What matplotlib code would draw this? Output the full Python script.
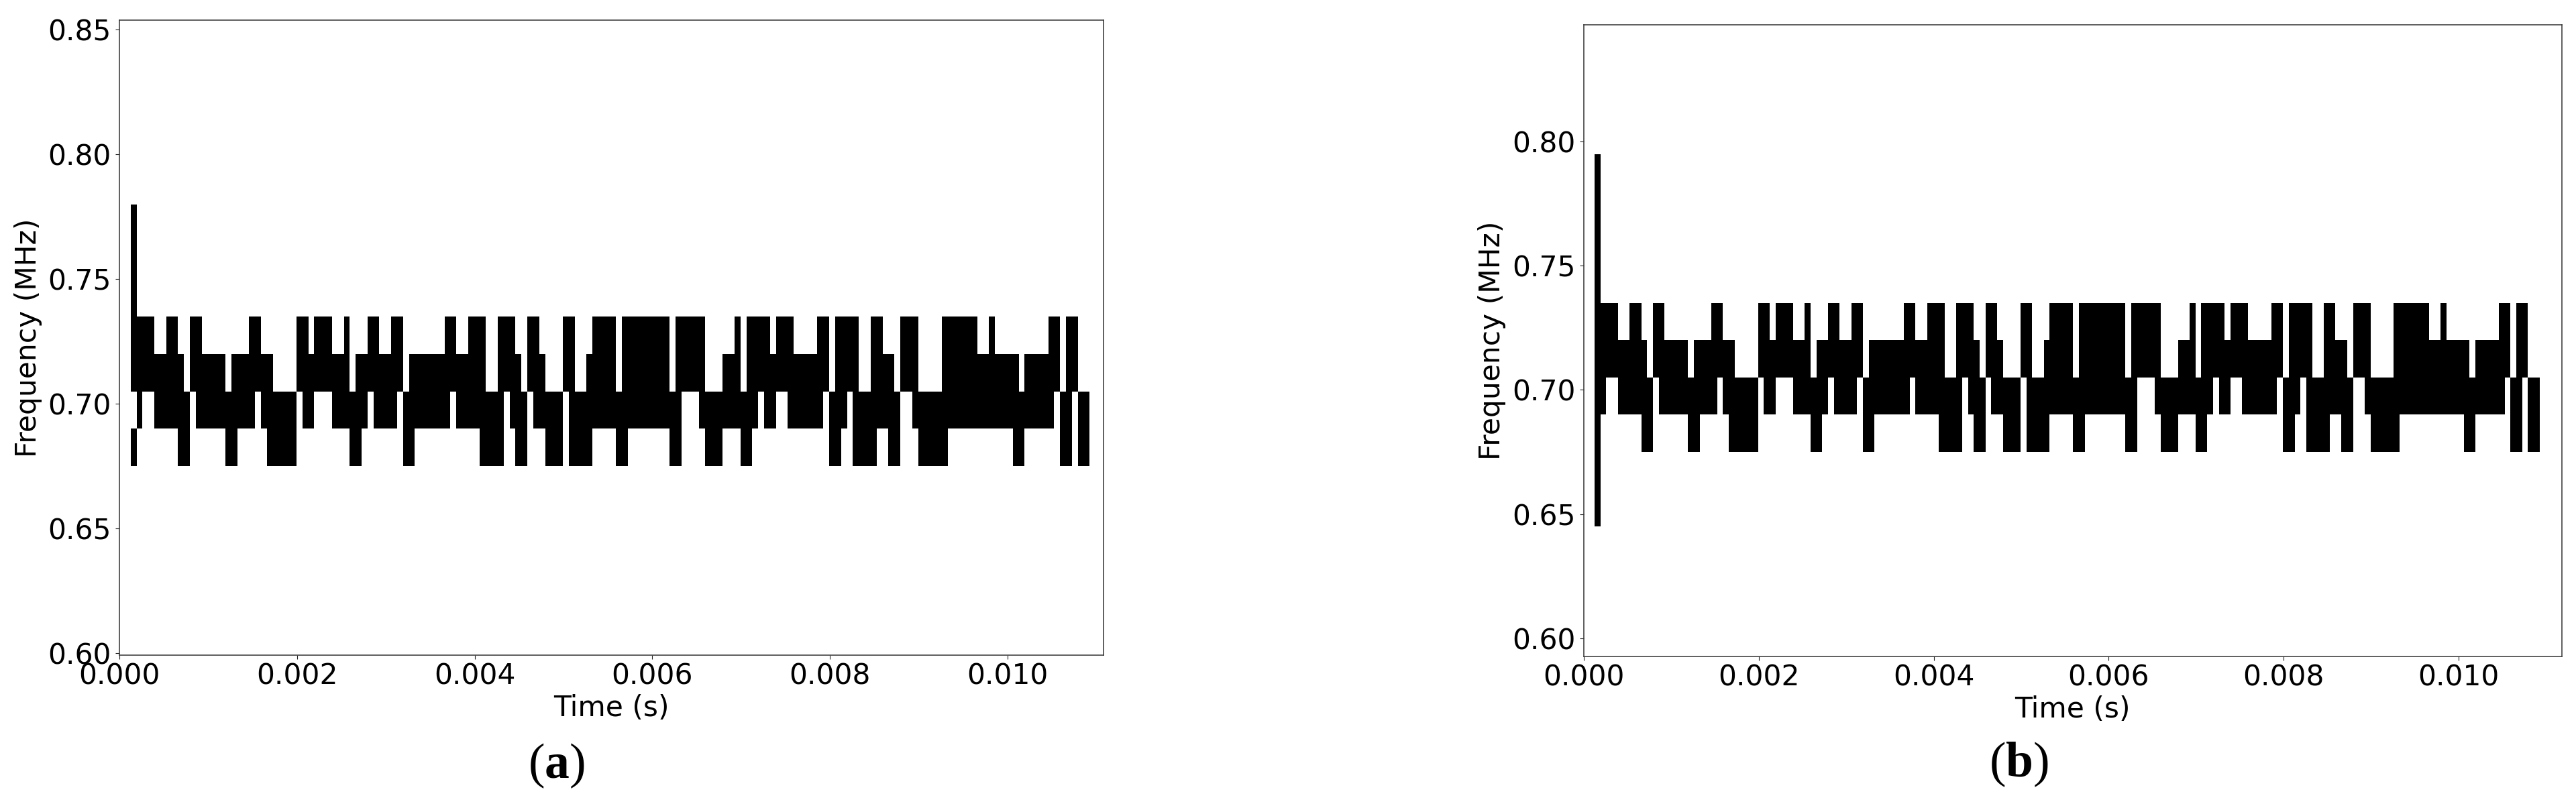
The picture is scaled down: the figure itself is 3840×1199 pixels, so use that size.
import numpy as np
import matplotlib
matplotlib.use("Agg")
import matplotlib.pyplot as plt

W, H = 3840, 1199

# frequency bin edges (MHz), bin columns are 1/15000 s wide
freq_edges = [0.645, 0.660, 0.675, 0.690, 0.705, 0.720, 0.735, 0.750, 0.765, 0.780, 0.795]
t_start = 0.000125
t_step = 6.667e-5
n_cols = 162

# on-columns per frequency bin, as (first, last+1), first column is handled below
runs_675 = [(8, 10), (16, 18), (23, 28), (37, 39), (46, 48), (59, 63), (65, 67), (70, 73),
            (74, 78), (82, 84), (91, 93), (97, 100), (103, 105), (118, 120), (122, 126),
            (128, 130), (133, 138), (149, 151), (157, 159), (160, 162)]
runs_690 = [(1, 2), (4, 10), (11, 21), (22, 28), (29, 31), (34, 40), (41, 45), (46, 54),
            (55, 63), (64, 67), (68, 73), (74, 93), (96, 106), (107, 109), (111, 117),
            (118, 121), (122, 130), (132, 156), (157, 159), (160, 162)]
runs_705 = [(1, 9), (10, 16), (17, 24), (28, 37), (38, 46), (47, 60), (62, 66), (67, 70),
            (73, 75), (77, 82), (83, 91), (92, 97), (100, 103), (104, 118), (119, 123),
            (125, 129), (130, 133), (137, 150), (151, 157), (158, 160)]
runs_720 = [(1, 4), (6, 8), (10, 12), (20, 22), (28, 30), (31, 34), (36, 37), (40, 42),
            (44, 46), (53, 55), (57, 60), (62, 65), (67, 69), (73, 75), (78, 82), (83, 91),
            (92, 97), (102, 103), (104, 108), (109, 112), (116, 118), (119, 123), (125, 127),
            (130, 133), (137, 143), (145, 146), (155, 157), (158, 160)]

# first column differs between the two panels (bottom of each bin)
first_col_a = [0.675, 0.705, 0.720, 0.735, 0.750, 0.765]
first_col_b = [0.645, 0.660, 0.675, 0.690, 0.705, 0.720, 0.735, 0.750, 0.765, 0.780]

x_ticks = [0.000, 0.002, 0.004, 0.006, 0.008, 0.010]
y_ticks_a = [0.60, 0.65, 0.70, 0.75, 0.80, 0.85]
y_ticks_b = [0.60, 0.65, 0.70, 0.75, 0.80]

plt.rcParams['font.family'] = 'DejaVu Sans'
plt.rcParams['mathtext.fontset'] = 'custom'
plt.rcParams['mathtext.bf'] = 'Liberation Serif:bold'
plt.rcParams['mathtext.rm'] = 'Liberation Serif'


def build_grid(first_col):
    grid = np.zeros((len(freq_edges) - 1, n_cols))
    for bottom, runs in [(0.675, runs_675), (0.690, runs_690), (0.705, runs_705), (0.720, runs_720)]:
        row = freq_edges.index(bottom)
        for a, b in runs:
            grid[row, a:b] = 1
    for bottom in first_col:
        grid[freq_edges.index(bottom), 0] = 1
    return grid


def add_panel(fig, box, first_col, xlim, ylim, yticks, ylabel_x):
    left, right, top, bottom = box
    ax = fig.add_axes([left / W, 1 - bottom / H, (right - left) / W, (bottom - top) / H])
    t_edges = t_start + t_step * np.arange(n_cols + 1)
    ax.pcolormesh(t_edges, freq_edges, build_grid(first_col), cmap='gray_r', vmin=0, vmax=1)
    ax.set_xlim(xlim)
    ax.set_ylim(ylim)
    ax.set_xticks(x_ticks)
    ax.set_yticks(yticks)
    ax.xaxis.set_major_formatter(matplotlib.ticker.FormatStrFormatter('%.3f'))
    ax.yaxis.set_major_formatter(matplotlib.ticker.FormatStrFormatter('%.2f'))
    ax.tick_params(labelsize=30.5, length=4, width=0.8, color='#222222')
    ax.tick_params(axis='x', pad=4)
    ax.tick_params(axis='y', pad=5)
    ax.set_xlabel('Time (s)', fontsize=30.5, labelpad=4)
    ax.set_ylabel('Frequency (MHz)', fontsize=30.5)
    ax.yaxis.set_label_coords(ylabel_x, 0.5)
    for s in ax.spines.values():
        s.set_linewidth(1.1)
        s.set_color('#333333')
    return ax


fig = plt.figure(figsize=(W / 100, H / 100), dpi=100, facecolor='white')

add_panel(fig, (178.3, 1645, 30, 976.7), first_col_a, (0, 0.011081), (0.5993, 0.85385), y_ticks_a, -0.0786)
add_panel(fig, (2360.8, 3818.7, 36.7, 978.7), first_col_b, (0, 0.011178), (0.5927, 0.8471), y_ticks_b, -0.0794)

fig.text(829 / W, 1 - 1142 / H, r'$\mathrm{(}\mathbf{a}\mathrm{)}$', fontsize=53, ha='center', va='center')
fig.text(3009.5 / W, 1 - 1140 / H, r'$\mathrm{(}\mathbf{b}\mathrm{)}$', fontsize=53, ha='center', va='center')

fig.savefig('out.png', dpi=100)
plt.close(fig)
